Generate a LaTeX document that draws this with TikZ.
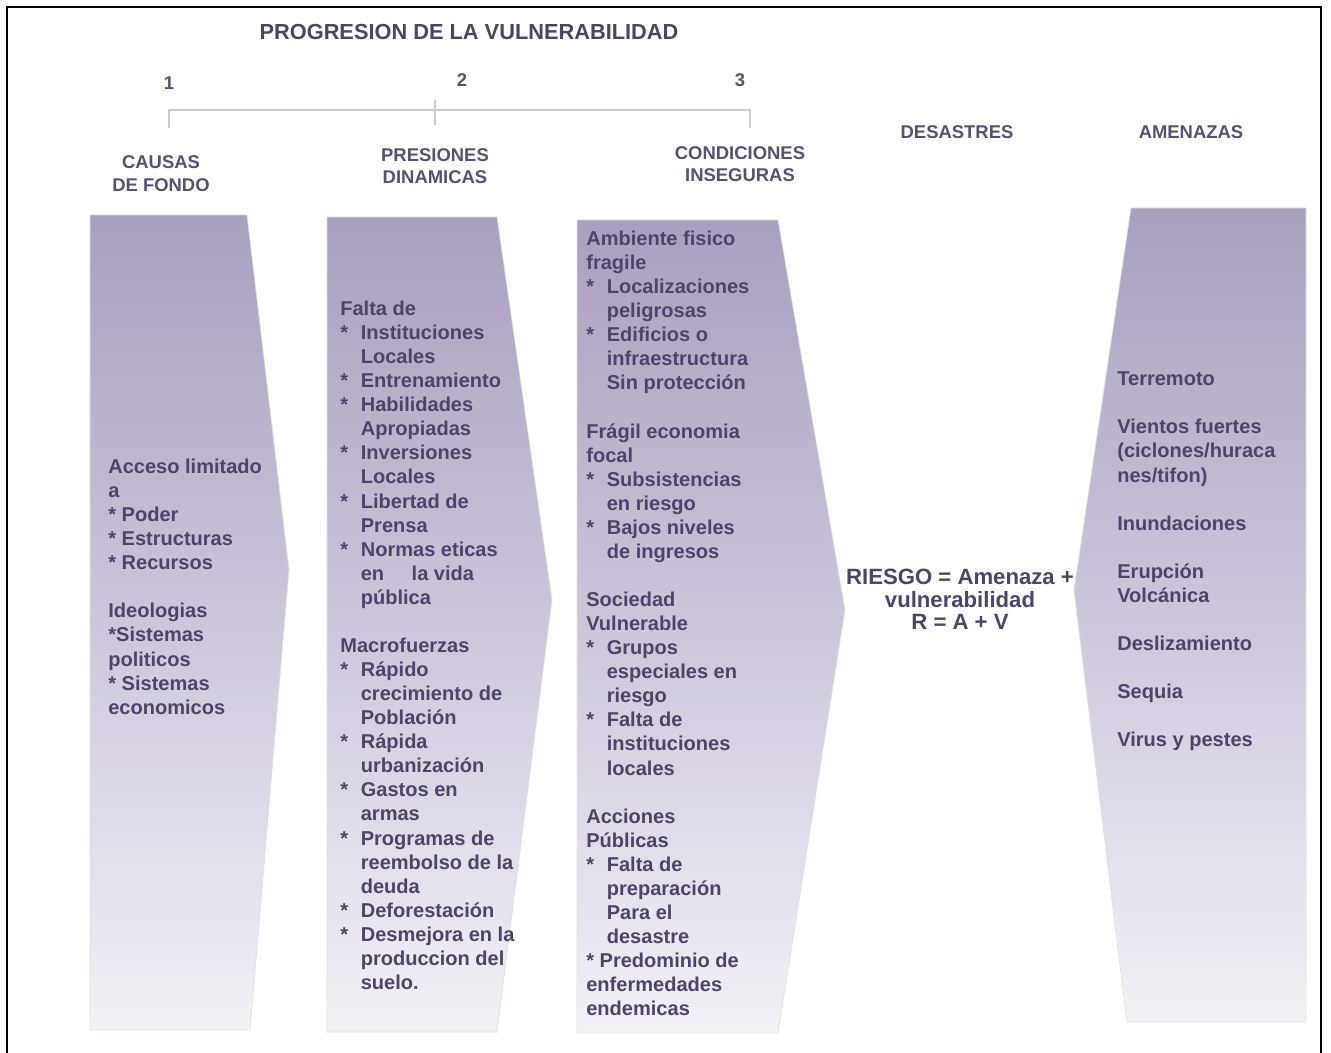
\documentclass[tikz,border=0pt]{standalone}
\usepackage{fontspec}
\setmainfont{Liberation Sans}
\usetikzlibrary{positioning, calc}
\usepackage{xcolor}
\definecolor{titlecol}{HTML}{4A4560}
\definecolor{headcol}{HTML}{575070}
\definecolor{textcol}{HTML}{4E4468}
\definecolor{bracketcol}{HTML}{CCCCCC}
\definecolor{shadetop}{HTML}{A99FBF}
\definecolor{shademid}{HTML}{CDC6DC}
\definecolor{shadebot}{HTML}{F3F1F6}

\newcommand{\itm}{\makebox[0.41cm][l]{*}}
\newcommand{\cnt}{\hspace*{0.41cm}}

\begin{document}
\begin{tikzpicture}[
    x=0.02cm, y=-0.02cm,
    panel/.style={
        top color=shadetop, bottom color=shadebot, middle color=shademid,
        draw=black!12, line width=0.4pt
    },
    bodytxt/.style={
        font=\bfseries\fontsize{11.4pt}{13.7pt}\selectfont, text=textcol,
        align=left, inner sep=0pt, anchor=north west
    },
    colhead/.style={
        font=\bfseries\fontsize{10.5pt}{12.8pt}\selectfont, text=headcol,
        align=center, inner sep=0pt
    },
    numlbl/.style={
        font=\bfseries\fontsize{10.5pt}{12pt}\selectfont, text=headcol, inner sep=0pt
    },
    bracket/.style={draw=bracketcol, line width=0.8pt},
]

\useasboundingbox (0,0) rectangle (1331,1053);

% ── Frame ──
\draw[line width=1.2pt] (7,1053) -- (7,7) -- (1321,7) -- (1321,1053);

% ── Title and stage numbers ──
\node[font=\bfseries\fontsize{12.4pt}{15pt}\selectfont, text=titlecol, inner sep=0pt]
    (title) at (469,32) {PROGRESION DE LA VULNERABILIDAD};
\node[numlbl] (n1) at (169,83) {1};
\node[numlbl] (n2) at (462,80) {2};
\node[numlbl] (n3) at (740,80) {3};

% ── Bracket ──
\coordinate (b1)  at (169,110);
\coordinate (b1d) at (169,128);
\coordinate (b2u) at (435,100);
\coordinate (b2d) at (435,125);
\coordinate (b3)  at (750,110);
\coordinate (b3d) at (750,128);
\draw[bracket] (b1d) -- (b1) -- (b3) -- (b3d);
\draw[bracket] (b2u) -- (b2d);

% ── Column headings ──
\node[colhead] (causas)  at (161,173.5) {CAUSAS\\DE FONDO};
\node[colhead] (presion) at (435,166)   {PRESIONES\\DINAMICAS};
\node[colhead] (condic)  at (740,164)   {CONDICIONES\\INSEGURAS};
\node[colhead] (desast)  at (957,132)   {DESASTRES};
\node[colhead] (amenaz)  at (1191,132)  {AMENAZAS};

% ── Shaded panels ──
\shade[panel] (90,215) -- (247,215) -- (289,570) -- (250,1030) -- (90,1030) -- cycle;
\shade[panel] (327,217) -- (497,217) -- (552,600) -- (497,1032) -- (327,1032) -- cycle;
\shade[panel] (577,220) -- (778,220) -- (845,610) -- (778,1033) -- (577,1033) -- cycle;
\shade[panel] (1131,208) -- (1306,208) -- (1306,1022) -- (1127,1022) -- (1074,590) -- cycle;

% ── Panel texts ──
\node[bodytxt] (causastxt) at (108,458.6)
    {Acceso limitado\\
     a\\
     * Poder\\
     * Estructuras\\
     * Recursos\\[\baselineskip]
     Ideologias\\
     *Sistemas\\
     politicos\\
     * Sistemas\\
     economicos};

\node[bodytxt] (presiontxt) at (340,300.6)
    {Falta de\\
     \itm Instituciones\\
     \cnt Locales\\
     \itm Entrenamiento\\
     \itm Habilidades\\
     \cnt Apropiadas\\
     \itm Inversiones\\
     \cnt Locales\\
     \itm Libertad de\\
     \cnt Prensa\\
     \itm Normas eticas\\
     \cnt en\hspace{0.55cm}la vida\\
     \cnt pública\\[\baselineskip]
     Macrofuerzas\\
     \itm Rápido\\
     \cnt crecimiento de\\
     \cnt Población\\
     \itm Rápida\\
     \cnt urbanización\\
     \itm Gastos en\\
     \cnt armas\\
     \itm Programas de\\
     \cnt reembolso de la\\
     \cnt deuda\\
     \itm Deforestación\\
     \itm Desmejora en la\\
     \cnt produccion del\\
     \cnt suelo.};

\node[bodytxt] (condictxt) at (586,230.6)
    {Ambiente fisico\\
     fragile\\
     \itm Localizaciones\\
     \cnt peligrosas\\
     \itm Edificios o\\
     \cnt infraestructura\\
     \cnt Sin protección\\[\baselineskip]
     Frágil economia\\
     focal\\
     \itm Subsistencias\\
     \cnt en riesgo\\
     \itm Bajos niveles\\
     \cnt de ingresos\\[\baselineskip]
     Sociedad\\
     Vulnerable\\
     \itm Grupos\\
     \cnt especiales en\\
     \cnt riesgo\\
     \itm Falta de\\
     \cnt instituciones\\
     \cnt locales\\[\baselineskip]
     Acciones\\
     Públicas\\
     \itm Falta de\\
     \cnt preparación\\
     \cnt Para el\\
     \cnt desastre\\
     * Predominio de\\
     enfermedades\\
     endemicas};

\node[bodytxt] (amenaztxt) at (1117,371.6)
    {Terremoto\\[\baselineskip]
     Vientos fuertes\\
     (ciclones/huraca\\
     nes/tifon)\\[\baselineskip]
     Inundaciones\\[\baselineskip]
     Erupción\\
     Volcánica\\[\baselineskip]
     Deslizamiento\\[\baselineskip]
     Sequia\\[\baselineskip]
     Virus y pestes};

% ── Risk formula ──
\node[font=\bfseries\fontsize{12.6pt}{12.8pt}\selectfont, text=textcol,
      align=center, inner sep=0pt, anchor=north]
    (riesgo) at (960,569) {RIESGO = Amenaza +\\vulnerabilidad\\R = A + V};

\end{tikzpicture}
\end{document}
